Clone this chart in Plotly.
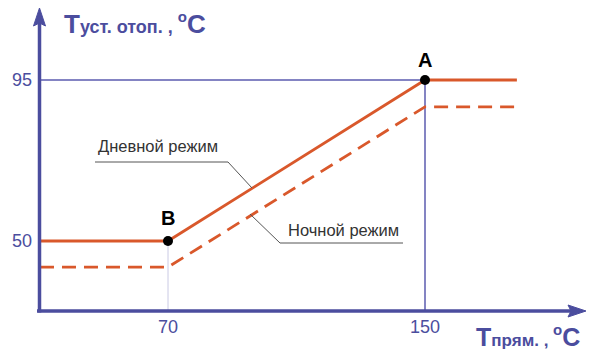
import plotly.graph_objects as go

# ---- data ----
x_ticks = [70, 150]
y_ticks = [50, 95]
day_x = [30.15, 70, 150, 178.6]
day_y = [50, 50, 95, 95]
night_x = [30.15, 70, 150, 178.0]
night_y = [42.7, 42.7, 87.5, 87.5]
points_x = [150, 70]
points_y = [95, 50]
points_lbl = ["A", "B"]
mode_labels = ["Дневной режим", "Ночной режим"]

# ---- geometry (page is offset by the 8px body margin) ----
OFF = 8
W, H = 586, 346
L, B = 32, 43
PW, PH = W - L, H - B
X_MIN, Y_MIN = 30.156, 30.436
XS, YS = 3.2125, 3.578           # px per data unit
X_MAX = X_MIN + PW / XS
Y_MAX = Y_MIN + PH / YS


def dx(page_x):
    return X_MIN + (page_x - OFF - L) / XS


def dy(page_y):
    return Y_MIN + ((H - B) - (page_y - OFF)) / YS


def px_(page_x):
    return (page_x - OFF - L) / PW


def py_(page_y):
    return ((H - B) - (page_y - OFF)) / PH


AXIS_C = "#4b4d9e"
GUIDE_C = "#5c5cb0"
LINE_C = "#d9582b"
FONT = "Liberation Sans, Arial, sans-serif"

fig = go.Figure()

# guide lines
fig.add_trace(go.Scatter(x=[X_MIN, 150, 150], y=[95, 95, Y_MIN], mode="lines",
                         line=dict(color=GUIDE_C, width=1.5), hoverinfo="skip"))
fig.add_trace(go.Scatter(x=[70, 70], y=[Y_MIN, 50], mode="lines",
                         line=dict(color="#cacae4", width=1), hoverinfo="skip"))

# curves
fig.add_trace(go.Scatter(x=night_x, y=night_y, mode="lines",
                         line=dict(color=LINE_C, width=2.8, dash="14px,8px"), hoverinfo="skip"))
fig.add_trace(go.Scatter(x=day_x, y=day_y, mode="lines",
                         line=dict(color=LINE_C, width=2.8), hoverinfo="skip"))

# leader lines
fig.add_trace(go.Scatter(x=[dx(95), dx(228), dx(252)], y=[dy(162), dy(162), dy(188)], mode="lines",
                         line=dict(color="#555555", width=1), hoverinfo="skip"))
fig.add_trace(go.Scatter(x=[dx(403), dx(280), dx(250)], y=[dy(243), dy(243), dy(214)], mode="lines",
                         line=dict(color="#555555", width=1), hoverinfo="skip"))

# points
fig.add_trace(go.Scatter(x=points_x, y=points_y, mode="markers",
                         marker=dict(color="black", size=10), hoverinfo="skip"))

shapes = []
# axes (paper refs so nothing is clipped)
shapes.append(dict(type="line", xref="paper", yref="paper", x0=px_(37), x1=px_(574),
                   y0=py_(311), y1=py_(311), line=dict(color=AXIS_C, width=3.5)))
shapes.append(dict(type="line", xref="paper", yref="paper", x0=px_(39.5), x1=px_(39.5),
                   y0=py_(312.5), y1=py_(20), line=dict(color=AXIS_C, width=3.5)))
shapes.append(dict(type="path", xref="paper", yref="paper", fillcolor=AXIS_C,
                   line=dict(color=AXIS_C, width=1),
                   path="M%f,%f L%f,%f L%f,%f L%f,%f Z" % (
                       px_(586), py_(311), px_(568), py_(305), px_(571), py_(311), px_(568), py_(317))))
shapes.append(dict(type="path", xref="paper", yref="paper", fillcolor=AXIS_C,
                   line=dict(color=AXIS_C, width=1),
                   path="M%f,%f L%f,%f L%f,%f L%f,%f Z" % (
                       px_(39.5), py_(8), px_(33.5), py_(26), px_(39.5), py_(23), px_(45.5), py_(26))))

ann = []
for xv, yv, t, sh in zip(points_x, points_y, points_lbl, [20, 23]):
    ann.append(dict(x=xv, y=yv, xref="x", yref="y", text="<b>%s</b>" % t, showarrow=False,
                    yshift=sh, font=dict(family=FONT, size=20, color="black")))

ann.append(dict(x=px_(62), y=py_(23.5), xref="paper", yref="paper", xanchor="left", yanchor="middle",
                showarrow=False,
                text="<b>T<span style='font-size:18px'>уст. отоп. , </span>"
                     "<sup><span style='font-size:15px'>o</span></sup>C</b>",
                font=dict(family=FONT, size=26, color=AXIS_C)))
ann.append(dict(x=px_(474), y=py_(336), xref="paper", yref="paper", xanchor="left", yanchor="middle",
                showarrow=False,
                text="<b>T<span style='font-size:17px'>прям. , </span>"
                     "<sup><span style='font-size:15px'>o</span></sup>C</b>",
                font=dict(family=FONT, size=25, color=AXIS_C)))
ann.append(dict(x=dx(158), y=dy(146), xref="x", yref="y", showarrow=False, text=mode_labels[0],
                font=dict(family=FONT, size=16.5, color="#333333")))
ann.append(dict(x=dx(343), y=dy(230), xref="x", yref="y", showarrow=False, text=mode_labels[1],
                font=dict(family=FONT, size=16.5, color="#333333")))

fig.update_layout(
    width=W, height=H, margin=dict(l=L, r=0, t=0, b=B, pad=0),
    paper_bgcolor="white", plot_bgcolor="white", showlegend=False,
    annotations=ann, shapes=shapes,
    xaxis=dict(range=[X_MIN, X_MAX], showgrid=False, zeroline=False, showline=False,
               tickvals=x_ticks, ticks="", tickfont=dict(family=FONT, size=18, color=AXIS_C),
               ticklabelstandoff=3, fixedrange=True),
    yaxis=dict(range=[Y_MIN, Y_MAX], showgrid=False, zeroline=False, showline=False,
               tickvals=y_ticks, ticks="", tickfont=dict(family=FONT, size=18, color=AXIS_C),
               ticklabelstandoff=7, fixedrange=True),
)
fig.write_html("out.html", config={"displayModeBar": False})
